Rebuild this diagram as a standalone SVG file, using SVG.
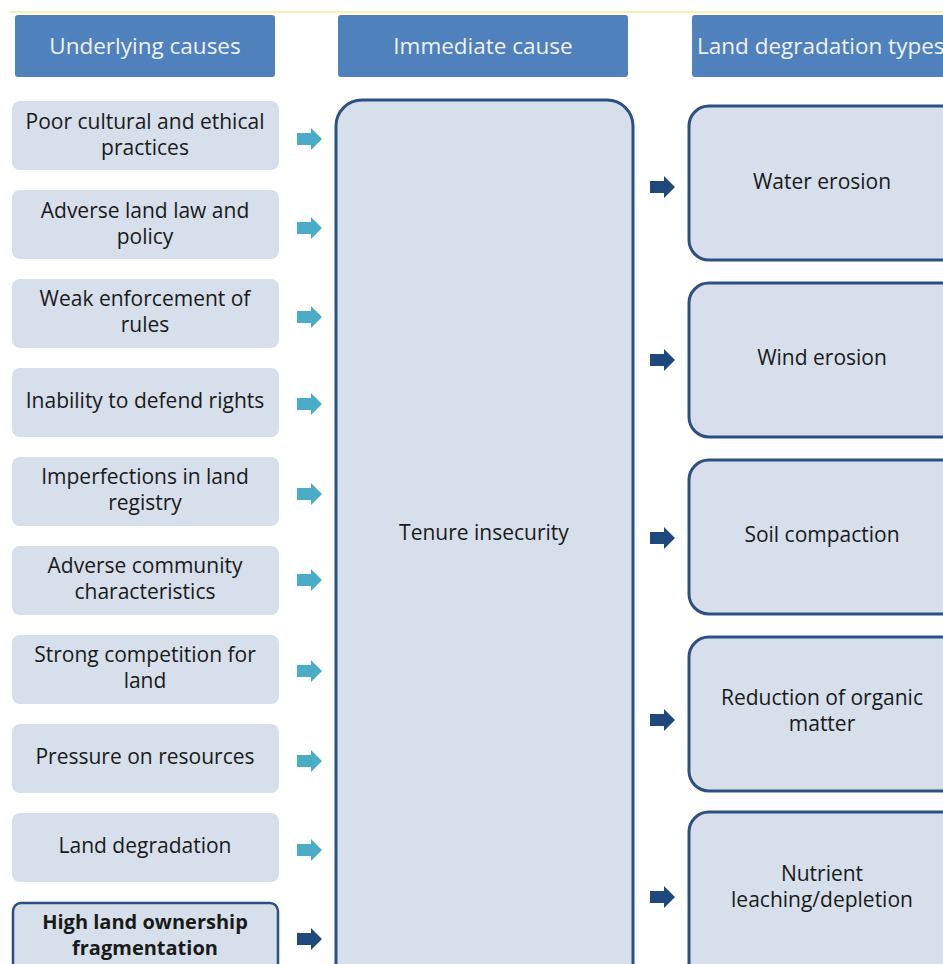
<svg xmlns="http://www.w3.org/2000/svg" width="943" height="964" viewBox="0 0 943 964">
<defs>
<style>
.hdr{fill:#4f81bd;}
.hdrt{fill:#eef2f8;font-family:"Open Sans","Liberation Sans",sans-serif;font-size:22.5px;text-anchor:middle;}
.lb{fill:#d6dfea;}
.t{fill:#1a1a1a;font-family:"Open Sans","Liberation Sans",sans-serif;font-size:21px;text-anchor:middle;}
.big{fill:#d6dfea;stroke:#2b5184;stroke-width:3;}
.ca{fill:#4bacc6;}
.da{fill:#1f497d;}
</style>
<path id="arr" d="M0,-6 L14,-6 L14,-11 L25,0 L14,11 L14,6 L0,6 Z"/>
</defs>
<rect width="943" height="964" fill="#ffffff"/>
<line x1="10" y1="12" x2="943" y2="12" stroke="#f7f2b0" stroke-width="2"/>
<g id="h1"><rect class="hdr" x="15" y="15" width="260" height="62" rx="3"/><text class="hdrt" x="145" y="54">Underlying causes</text></g>
<g id="h2"><rect class="hdr" x="338" y="15" width="290" height="62" rx="3"/><text class="hdrt" x="483" y="54">Immediate cause</text></g>
<g id="h3"><rect class="hdr" x="692" y="15" width="260" height="62" rx="3"/><text class="hdrt" x="697" y="54" style="text-anchor:start">Land degradation types</text></g>

<g id="u1"><rect class="lb" x="12" y="101" width="267" height="69" rx="8"/><text class="t" x="145" y="129">Poor cultural and ethical</text><text class="t" x="145" y="155">practices</text></g>
<g id="u2"><rect class="lb" x="12" y="190" width="267" height="69" rx="8"/><text class="t" x="145" y="218">Adverse land law and</text><text class="t" x="145" y="244">policy</text></g>
<g id="u3"><rect class="lb" x="12" y="279" width="267" height="69" rx="8"/><text class="t" x="145" y="306">Weak enforcement of</text><text class="t" x="145" y="332">rules</text></g>
<g id="u4"><rect class="lb" x="12" y="368" width="267" height="69" rx="8"/><text class="t" x="145" y="408">Inability to defend rights</text></g>
<g id="u5"><rect class="lb" x="12" y="457" width="267" height="69" rx="8"/><text class="t" x="145" y="484">Imperfections in land</text><text class="t" x="145" y="510">registry</text></g>
<g id="u6"><rect class="lb" x="12" y="546" width="267" height="69" rx="8"/><text class="t" x="145" y="573">Adverse community</text><text class="t" x="145" y="599">characteristics</text></g>
<g id="u7"><rect class="lb" x="12" y="635" width="267" height="69" rx="8"/><text class="t" x="145" y="662">Strong competition for</text><text class="t" x="145" y="688">land</text></g>
<g id="u8"><rect class="lb" x="12" y="724" width="267" height="69" rx="8"/><text class="t" x="145" y="764">Pressure on resources</text></g>
<g id="u9"><rect class="lb" x="12" y="813" width="267" height="69" rx="8"/><text class="t" x="145" y="853">Land degradation</text></g>
<g id="u10"><rect class="lb" x="13" y="903" width="265" height="75" rx="8" stroke="#2b5184" stroke-width="2.5"/><text class="t" x="145" y="929" font-weight="bold" style="font-size:20px">High land ownership</text><text class="t" x="145" y="955" font-weight="bold" style="font-size:20px">fragmentation</text></g>

<g id="center"><rect class="big" x="336" y="100" width="297" height="900" rx="26"/><text class="t" x="484" y="540">Tenure insecurity</text></g>

<g id="d1"><rect class="big" x="689" y="106" width="280" height="154" rx="20"/><text class="t" x="822" y="189">Water erosion</text></g>
<g id="d2"><rect class="big" x="689" y="283" width="280" height="154" rx="20"/><text class="t" x="822" y="365">Wind erosion</text></g>
<g id="d3"><rect class="big" x="689" y="460" width="280" height="154" rx="20"/><text class="t" x="822" y="542">Soil compaction</text></g>
<g id="d4"><rect class="big" x="689" y="637" width="280" height="154" rx="20"/><text class="t" x="822" y="705">Reduction of organic</text><text class="t" x="822" y="731">matter</text></g>
<g id="d5"><rect class="big" x="689" y="812" width="280" height="190" rx="20"/><text class="t" x="822" y="881">Nutrient</text><text class="t" x="822" y="907">leaching/depletion</text></g>

<g id="connectors">
<use href="#arr" class="ca" x="297" y="139"/>
<use href="#arr" class="ca" x="297" y="228"/>
<use href="#arr" class="ca" x="297" y="317"/>
<use href="#arr" class="ca" x="297" y="404"/>
<use href="#arr" class="ca" x="297" y="494"/>
<use href="#arr" class="ca" x="297" y="580"/>
<use href="#arr" class="ca" x="297" y="671"/>
<use href="#arr" class="ca" x="297" y="761"/>
<use href="#arr" class="ca" x="297" y="850"/>
<use href="#arr" class="da" x="297" y="939"/>
<use href="#arr" class="da" x="650" y="187"/>
<use href="#arr" class="da" x="650" y="360"/>
<use href="#arr" class="da" x="650" y="538"/>
<use href="#arr" class="da" x="650" y="720"/>
<use href="#arr" class="da" x="650" y="897"/>
</g>
</svg>
